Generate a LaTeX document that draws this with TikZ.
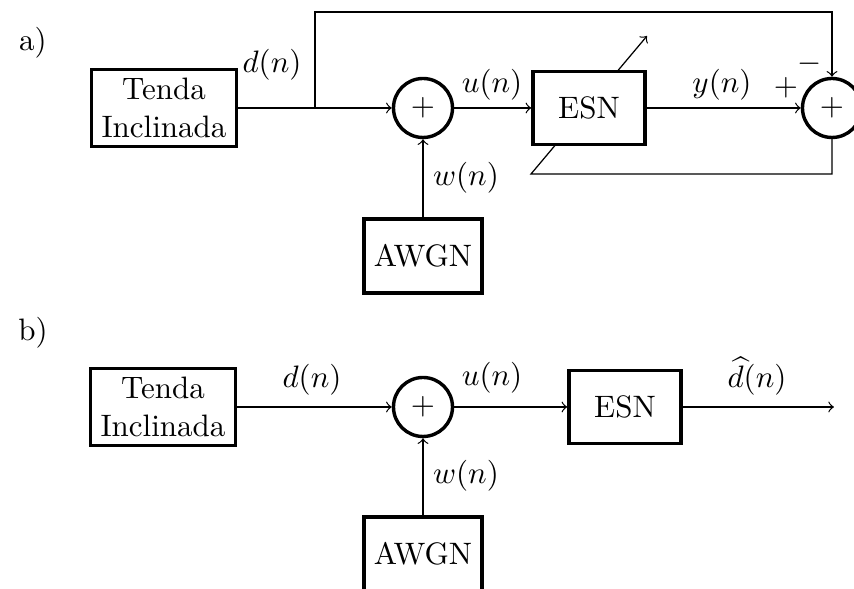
\documentclass[tikz,border=0pt]{standalone}
\usetikzlibrary{backgrounds}
\begin{document}
\begin{tikzpicture}[x=0.01134cm,y=-0.01134cm,
  blk/.style={draw,line width=1.1pt,fill=white,inner sep=0pt,align=center},
  tendabox/.style={blk,minimum width=1.644cm,minimum height=0.873cm},
  esnbox/.style={blk,minimum width=1.270cm,minimum height=0.828cm},
  noisebox/.style={blk,minimum width=1.338cm,minimum height=0.839cm},
  sumnode/.style={draw,circle,line width=1.1pt,fill=white,inner sep=0pt,minimum size=0.669cm},
  sig/.style={line width=0.4pt},
  lbl/.style={inner sep=0pt}]
\useasboundingbox (0,0) rectangle (854,589);

% ---------- a) training set-up ----------
\node[lbl] (tagA) at (33,43) {a)};
\node[tendabox] (tendaA) at (164,108) {Tenda\\Inclinada};
\node[sumnode] (sumA1) at (423,108) {$+$};
\node[esnbox] (esnA) at (589,108) {ESN};
\node[sumnode] (sumA2) at (832,108) {$+$};
\node[noisebox] (awgnA) at (423,256) {AWGN};

\coordinate (brA) at (315,108);
\coordinate (topA) at (832,12);
\coordinate (fbR) at (832,174);
\coordinate (fbL) at (531,174);
\coordinate (adapt) at (647,36);

\draw[sig,->] (tendaA.east) -- (sumA1.west);
\draw[sig,->] (brA) |- (topA) -- (sumA2.north);
\draw[sig,->] (awgnA.north) -- (sumA1.south);
\draw[sig,->] (sumA1.east) -- (esnA.west);
\draw[sig,->] (esnA.east) -- (sumA2.west);
\begin{scope}[on background layer]
  \draw[sig,->] (sumA2.south) -- (fbR) -- (fbL) -- (adapt);
\end{scope}

\node[lbl] (dA) at (272,65) {$d(n)$};
\node[lbl] (uA) at (492,85) {$u(n)$};
\node[lbl] (yA) at (722,85) {$y(n)$};
\node[lbl] (wA) at (466,178) {$w(n)$};
\node[lbl] (plusA) at (786,88) {$+$};
\node[lbl] (minusA) at (810,64) {$-$};

% ---------- b) operation ----------
\node[lbl] (tagB) at (33,333) {b)};
\node[tendabox] (tendaB) at (163,407) {Tenda\\Inclinada};
\node[sumnode] (sumB1) at (423,407) {$+$};
\node[esnbox] (esnB) at (625,407) {ESN};
\node[noisebox] (awgnB) at (423,554) {AWGN};
\coordinate (outB) at (834,407);

\draw[sig,->] (tendaB.east) -- (sumB1.west);
\draw[sig,->] (awgnB.north) -- (sumB1.south);
\draw[sig,->] (sumB1.east) -- (esnB.west);
\draw[sig,->] (esnB.east) -- (outB);

\node[lbl] (dB) at (312,380) {$d(n)$};
\node[lbl] (uB) at (492,378) {$u(n)$};
\node[lbl] (dhB) at (757,376) {$\widehat{d}(n)$};
\node[lbl] (wB) at (466,476) {$w(n)$};
\end{tikzpicture}
\end{document}
